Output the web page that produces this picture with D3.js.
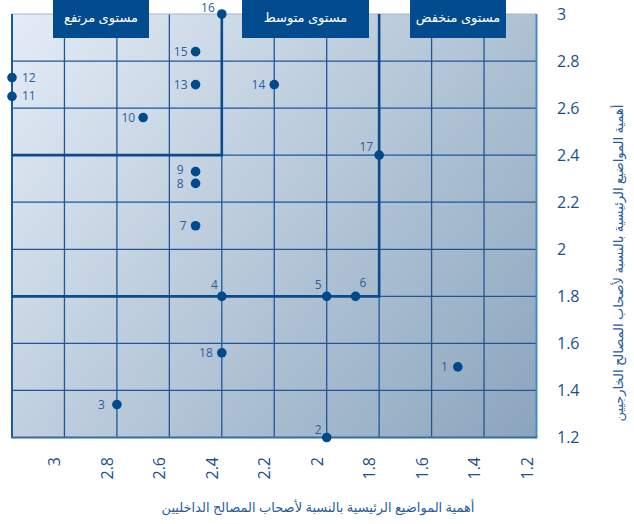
<!DOCTYPE html>
<html>
<head>
    <meta charset="UTF-8">
    <title>Materiality Matrix</title>
    <script src="https://d3js.org/d3.v7.min.js"></script>

    <style type="text/css">
      body{
        margin: 0;
        background-color: white;
      }

      svg{
        display: block;
        background-color: white;
        font-family: "Open Sans", "DejaVu Sans", sans-serif;
      }
    </style>

</head>
<body>
    <svg id="chart"></svg>

    <script>

        // data
        const topicIds = [1, 2, 3, 4, 5, 6, 7, 8, 9, 10, 11, 12, 13, 14, 15, 16, 17, 18];
        const internalValues = [1.5, 2.0, 2.8, 2.4, 2.0, 1.89, 2.5, 2.5, 2.5, 2.7, 3.2, 3.2, 2.5, 2.2, 2.5, 2.4, 1.8, 2.4];
        const externalValues = [1.5, 1.2, 1.34, 1.8, 1.8, 1.8, 2.1, 2.28, 2.33, 2.56, 2.65, 2.73, 2.7, 2.7, 2.84, 3.0, 2.4, 1.56];

        const xTickValues = [3, 2.8, 2.6, 2.4, 2.2, 2, 1.8, 1.6, 1.4, 1.2];
        const yTickValues = [3, 2.8, 2.6, 2.4, 2.2, 2, 1.8, 1.6, 1.4, 1.2];

        const levelNames = ["مستوى مرتفع", "مستوى متوسط", "مستوى منخفض"];
        const levelThresholds = [2.4, 1.8];   // high / medium limits, same on both axes

        const xTitle = "أهمية المواضيع الرئيسية بالنسبة لأصحاب المصالح الداخليين";
        const yTitle = "أهمية المواضيع الرئيسية بالنسبة لأصحاب المصالح الخارجيين";

        const width = 634;
        const height = 524;
        const plot = {left: 12, right: 536.5, top: 14, bottom: 437.5};

        const svg = d3.select("#chart")
          .attr("width", width)
          .attr("height", height);

        const x_scale = d3.scaleLinear()
          .domain([3.2, 1.2])
          .range([plot.left, plot.right]);

        const y_scale = d3.scaleLinear()
          .domain([1.2, 3])
          .range([plot.bottom, plot.top]);

        const points = topicIds.map((id, i) => ({id: id, x: internalValues[i], y: externalValues[i]}));

        // background gradient
        const grad = svg.append("defs").append("linearGradient")
          .attr("id", "bg")
          .attr("gradientUnits", "userSpaceOnUse")
          .attr("x1", plot.left).attr("y1", plot.top)
          .attr("x2", plot.right).attr("y2", plot.bottom);
        grad.append("stop").attr("offset", "0%").attr("stop-color", "#e4ecf6");
        grad.append("stop").attr("offset", "100%").attr("stop-color", "#8ba5bd");

        svg.append("rect")
          .attr("x", plot.left)
          .attr("y", plot.top)
          .attr("width", plot.right - plot.left)
          .attr("height", plot.bottom - plot.top)
          .style("fill", "url(#bg)");

        // grid
        const grid = svg.append("g")
          .attr("stroke", "#1d5799")
          .attr("stroke-width", 1.3);

        grid.selectAll(".vline")
          .data(xTickValues.filter((d) => d > 1.2))
          .enter()
          .append("line")
          .attr("x1", (d) => x_scale(d))
          .attr("x2", (d) => x_scale(d))
          .attr("y1", plot.top)
          .attr("y2", plot.bottom);

        grid.selectAll(".hline")
          .data(yTickValues.filter((d) => d > 1.2 && d < 3))
          .enter()
          .append("line")
          .attr("x1", plot.left)
          .attr("x2", plot.right)
          .attr("y1", (d) => y_scale(d))
          .attr("y2", (d) => y_scale(d));

        // plot border, each side a bit different
        const border = svg.append("g").attr("fill", "none");
        border.append("line")
          .attr("x1", plot.left).attr("x2", plot.right)
          .attr("y1", plot.top).attr("y2", plot.top)
          .attr("stroke", "#9fb8d6").attr("stroke-width", 1);
        border.append("line")
          .attr("x1", plot.left).attr("x2", plot.left)
          .attr("y1", plot.top).attr("y2", plot.bottom)
          .attr("stroke", "#1a5aa0").attr("stroke-width", 2);
        border.append("line")
          .attr("x1", plot.right).attr("x2", plot.right)
          .attr("y1", plot.top).attr("y2", plot.bottom + 1)
          .attr("stroke", "#4d88c0").attr("stroke-width", 2);
        border.append("line")
          .attr("x1", plot.left - 1).attr("x2", plot.right)
          .attr("y1", plot.bottom).attr("y2", plot.bottom)
          .attr("stroke", "#336ca6").attr("stroke-width", 2);

        // level boundaries
        const line = d3.line()
          .x((d) => x_scale(d[0]))
          .y((d) => y_scale(d[1]));

        svg.selectAll(".level")
          .data(levelThresholds)
          .enter()
          .append("path")
          .attr("d", (t) => line([[3.2, t], [t, t], [t, 3]]))
          .attr("fill", "none")
          .attr("stroke", "#0d4a8c")
          .attr("stroke-width", 2.6);

        // level header boxes
        const boxes = [
          {x: 53, w: 96},
          {x: 242, w: 127},
          {x: 410, w: 96}
        ];

        const box = svg.selectAll(".box")
          .data(levelNames)
          .enter()
          .append("g")
          .attr("transform", (d, i) => `translate(${boxes[i].x}, 0)`);

        box.append("rect")
          .attr("width", (d, i) => boxes[i].w)
          .attr("height", 38)
          .style("fill", "#024b8e");

        box.append("text")
          .attr("x", (d, i) => boxes[i].w / 2)
          .attr("y", 22)
          .attr("text-anchor", "middle")
          .attr("direction", "rtl")
          .style("font-size", "13px")
          .style("fill", "white")
          .text((d) => d);

        // points
        svg.selectAll("circle")
          .data(points)
          .enter()
          .append("circle")
          .attr("cx", (d) => x_scale(d.x))
          .attr("cy", (d) => y_scale(d.y))
          .attr("r", 4.8)
          .style("fill", "#004a8c");

        // label offset per topic: [dx, dy, anchor]
        const labelPos = {
          1: [-10, 4, "end"], 2: [-5, -4, "end"], 3: [-12, 4, "end"],
          4: [-4, -7, "end"], 5: [-5, -7, "end"], 6: [4, -9, "start"],
          7: [-9, 4, "end"], 8: [-12, 5, "end"], 9: [-12, 2, "end"],
          10: [-8, 4, "end"], 11: [10, 4, "start"], 12: [10, 4, "start"],
          13: [-8, 4, "end"], 14: [-9, 4, "end"], 15: [-8, 4, "end"],
          16: [-7, -2, "end"], 17: [-6, -4, "end"], 18: [-9, 4, "end"]
        };

        svg.selectAll(".label")
          .data(points)
          .enter()
          .append("text")
          .attr("x", (d) => x_scale(d.x) + labelPos[d.id][0])
          .attr("y", (d) => y_scale(d.y) + labelPos[d.id][1])
          .attr("text-anchor", (d) => labelPos[d.id][2])
          .style("font-size", "12px")
          .style("fill", "#2d5e9c")
          .text((d) => d.id);

        // x axis labels, rotated
        svg.append("g")
          .selectAll("text")
          .data(xTickValues)
          .enter()
          .append("text")
          .attr("transform", (d) => `translate(${x_scale(d) - 4}, 457)rotate(-90)`)
          .attr("text-anchor", "end")
          .style("font-size", "16px")
          .style("fill", "#1b4f8f")
          .text((d) => d);

        // y axis labels on the right
        svg.append("g")
          .selectAll("text")
          .data(yTickValues)
          .enter()
          .append("text")
          .attr("x", 557)
          .attr("y", (d) => y_scale(d))
          .attr("dy", "0.35em")
          .style("font-size", "16px")
          .style("fill", "#1b4f8f")
          .text((d) => d);

        // axis titles
        svg.append("text")
          .attr("x", 318)
          .attr("y", 512)
          .attr("text-anchor", "middle")
          .attr("direction", "rtl")
          .style("font-size", "13px")
          .style("fill", "#2a5b9a")
          .text(xTitle);

        svg.append("text")
          .attr("transform", "translate(623, 263)rotate(-90)")
          .attr("text-anchor", "middle")
          .attr("direction", "rtl")
          .style("font-size", "13px")
          .style("fill", "#2a5b9a")
          .text(yTitle);

    </script>
</body>
</html>
